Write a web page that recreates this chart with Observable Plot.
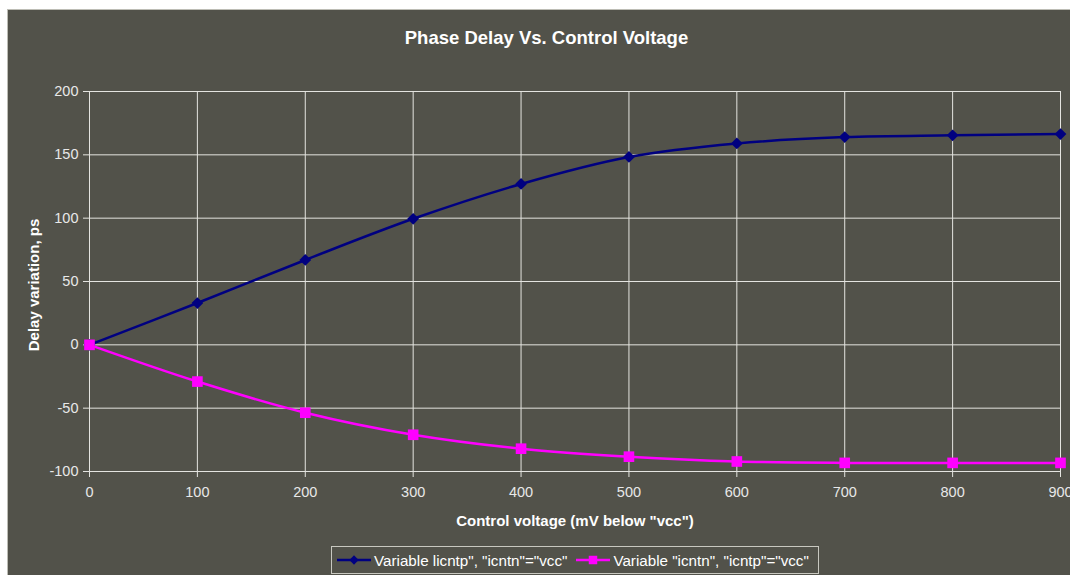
<!DOCTYPE html>
<html>
<head>
<meta charset="utf-8">
<script src="https://cdn.jsdelivr.net/npm/d3@7"></script>
<script src="https://cdn.jsdelivr.net/npm/@observablehq/plot@0.6"></script>
<style>
  html, body { margin: 0; padding: 0; background: #ffffff; }
  body { width: 1070px; height: 575px; overflow: hidden; position: relative; font-family: "Liberation Sans", Arial, sans-serif; }
  #panel { position: absolute; left: 7px; top: 9px; width: 1070px; height: 580px; background: #52524a; border-left: 1px solid #bdbdb5; border-top: 1px solid #bdbdb5; box-sizing: border-box; }
  #chart { position: absolute; left: -1px; top: -1px; }
  #title { position: absolute; left: 0; top: 17px; width: 1077px; text-align: center; font-size: 18.5px; font-weight: bold; color: #ffffff; }
  #ylabel { position: absolute; left: 25px; top: 275px; transform: translate(-50%, -50%) rotate(-90deg); font-size: 15px; font-weight: bold; color: #ffffff; white-space: nowrap; }
  #xlabel { position: absolute; left: 567px; top: 502px; transform: translateX(-50%); font-size: 15px; font-weight: bold; color: #ffffff; white-space: nowrap; }
  #legend { position: absolute; left: 323px; top: 536px; width: 488px; height: 28px; border: 1px solid #c8c8c0; box-sizing: border-box; display: flex; align-items: center; padding-left: 4px; font-size: 15.2px; color: #ffffff; white-space: nowrap; }
  #legend .item { display: flex; align-items: center; margin-right: 8px; }
  #legend svg { margin-right: 2px; }
</style>
</head>
<body>
<div id="panel">
  <div id="chart"></div>
  <div id="title">Phase Delay Vs. Control Voltage</div>
  <div id="ylabel">Delay variation, ps</div>
  <div id="xlabel">Control voltage (mV below "vcc")</div>
  <div id="legend"></div>
</div>
<script>
const voltages = [0, 100, 200, 300, 400, 500, 600, 700, 800, 900];
const seriesNames = ['Variable licntp", "icntn"="vcc"', 'Variable "icntn", "icntp"="vcc"'];
const seriesA = [0, 33, 67, 99.5, 127, 148.3, 159, 164, 165.4, 166.4];
const seriesB = [0, -29, -53.6, -71, -82, -88.3, -92.1, -93.2, -93.2, -93.2];
const xTicks = [0, 100, 200, 300, 400, 500, 600, 700, 800, 900];
const yTicks = [-100, -50, 0, 50, 100, 150, 200];
const colors = ["#000080", "#ff00ff"];

const dataA = voltages.map((v, i) => ({x: v, y: seriesA[i]}));
const dataB = voltages.map((v, i) => ({x: v, y: seriesB[i]}));
const fmt = d => String(d);

const chart = Plot.plot({
  width: 1063,
  height: 566,
  marginLeft: 82,
  marginRight: 10,
  marginTop: 82,
  marginBottom: 104,
  style: {background: "transparent", color: "#e8e8e8", fontFamily: "Liberation Sans, Arial, sans-serif", fontSize: "14.5px"},
  x: {domain: [0, 900], ticks: xTicks, label: null},
  y: {domain: [-100, 200], ticks: yTicks, label: null},
  marks: [
    Plot.gridX(xTicks, {stroke: "#e4e4e0", strokeOpacity: 1, strokeWidth: 1}),
    Plot.gridY(yTicks, {stroke: "#e4e4e0", strokeOpacity: 1, strokeWidth: 1}),
    Plot.ruleX([0], {stroke: "#e4e4e0", strokeWidth: 1}),
    Plot.ruleY([-100], {stroke: "#e4e4e0", strokeWidth: 1}),
    Plot.axisX({ticks: xTicks, tickFormat: fmt, tickSize: 6, tickPadding: 9, stroke: "#e4e4e0", fill: "#e8e8e8", fontSize: 14.5, label: null}),
    Plot.axisY({ticks: yTicks, tickFormat: fmt, tickSize: 6, tickPadding: 5, stroke: "#e4e4e0", fill: "#e8e8e8", fontSize: 14.5, label: null}),
    Plot.line(dataA, {x: "x", y: "y", stroke: colors[0], strokeWidth: 2.5, curve: "catmull-rom"}),
    Plot.line(dataB, {x: "x", y: "y", stroke: colors[1], strokeWidth: 2.5, curve: "catmull-rom"}),
    Plot.dot(dataA, {x: "x", y: "y", symbol: "diamond2", r: 5.3, fill: colors[0], stroke: "none"}),
    Plot.dot(dataB, {x: "x", y: "y", symbol: "square", r: 6, fill: colors[1], stroke: "none"})
  ]
});
document.getElementById("chart").appendChild(chart);

// legend
const legend = d3.select("#legend");
seriesNames.forEach((name, i) => {
  const item = legend.append("div").attr("class", "item");
  const svg = item.append("svg").attr("width", 36).attr("height", 14);
  svg.append("line").attr("x1", 1).attr("x2", 35).attr("y1", 7).attr("y2", 7)
     .attr("stroke", colors[i]).attr("stroke-width", 2.5);
  if (i === 0) {
    svg.append("path").attr("d", d3.symbol(d3.symbolDiamond2, 55)()).attr("transform", "translate(18,7)").attr("fill", colors[i]);
  } else {
    svg.append("path").attr("d", d3.symbol(d3.symbolSquare, 72)()).attr("transform", "translate(18,7)").attr("fill", colors[i]);
  }
  item.append("span").text(name);
});
</script>
</body>
</html>
